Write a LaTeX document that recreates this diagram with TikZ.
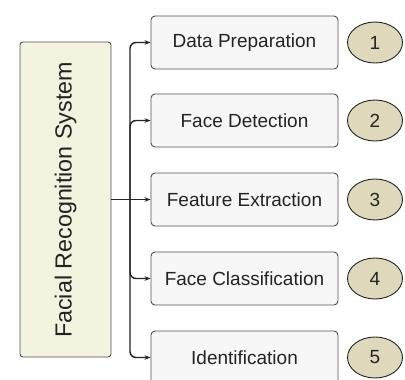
\documentclass[tikz,border=0pt]{standalone}
\usepackage{fontspec}
\setmainfont{Liberation Sans}
\usetikzlibrary{arrows.meta,shapes.geometric}
\definecolor{sysfill}{RGB}{244,243,224}
\definecolor{stepfill}{RGB}{246,247,246}
\definecolor{numfill}{RGB}{222,217,186}
\definecolor{edge}{RGB}{80,80,80}
\definecolor{ink}{RGB}{35,35,35}
\begin{document}
\begin{tikzpicture}[x=1pt,y=-1pt,
  sysbox/.style={draw=edge,line width=0.9pt,fill=sysfill,rounded corners=3pt,
    minimum width=91pt,minimum height=315pt,inner sep=0pt},
  stepbox/.style={draw=edge,line width=0.9pt,fill=stepfill,rounded corners=4pt,
    minimum width=187pt,minimum height=53pt,inner sep=0pt,
    font=\fontsize{19}{22}\selectfont,text=ink},
  numbox/.style={draw=ink,line width=0.9pt,fill=numfill,ellipse,
    minimum width=55pt,minimum height=41pt,inner sep=0pt,
    font=\fontsize{19}{22}\selectfont,text=ink},
  conn/.style={draw=ink,line width=1.4pt,rounded corners=6pt,
    -{Stealth[length=6pt,width=4.5pt]}}]
\useasboundingbox (0,0) rectangle (405,380);

% left system block
\node[sysbox] (sys) at (65.5,199.5) {};
\node[rotate=90,font=\fontsize{23.3}{26}\selectfont,text=ink] (systxt) at (65.5,200) {Facial Recognition System};

% processing stages
\node[stepbox] (b1) at (244.5,42.5) {Data Preparation};
\node[stepbox] (b2) at (244.5,120.5) {Face Detection};
\node[stepbox] (b3) at (244.5,199.5) {Feature Extraction};
\node[stepbox] (b4) at (244.5,278.5) {Face Classification};
\node[stepbox] (b5) at (244.5,357.5) {Identification};

% stage numbers
\node[numbox] (n1) at (375,42.5) {1};
\node[numbox] (n2) at (375,120.5) {2};
\node[numbox] (n3) at (375,199.5) {3};
\node[numbox] (n4) at (375,278.5) {4};
\node[numbox] (n5) at (375,357.5) {5};

% branching connectors
\coordinate (trunk) at (130,199.5);
\draw[conn] (sys.east) -- (b3.west);
\draw[conn] (trunk) |- (b1.west);
\draw[conn] (trunk) |- (b2.west);
\draw[conn] (trunk) |- (b4.west);
\draw[conn] (trunk) |- (b5.west);
\end{tikzpicture}
\end{document}
